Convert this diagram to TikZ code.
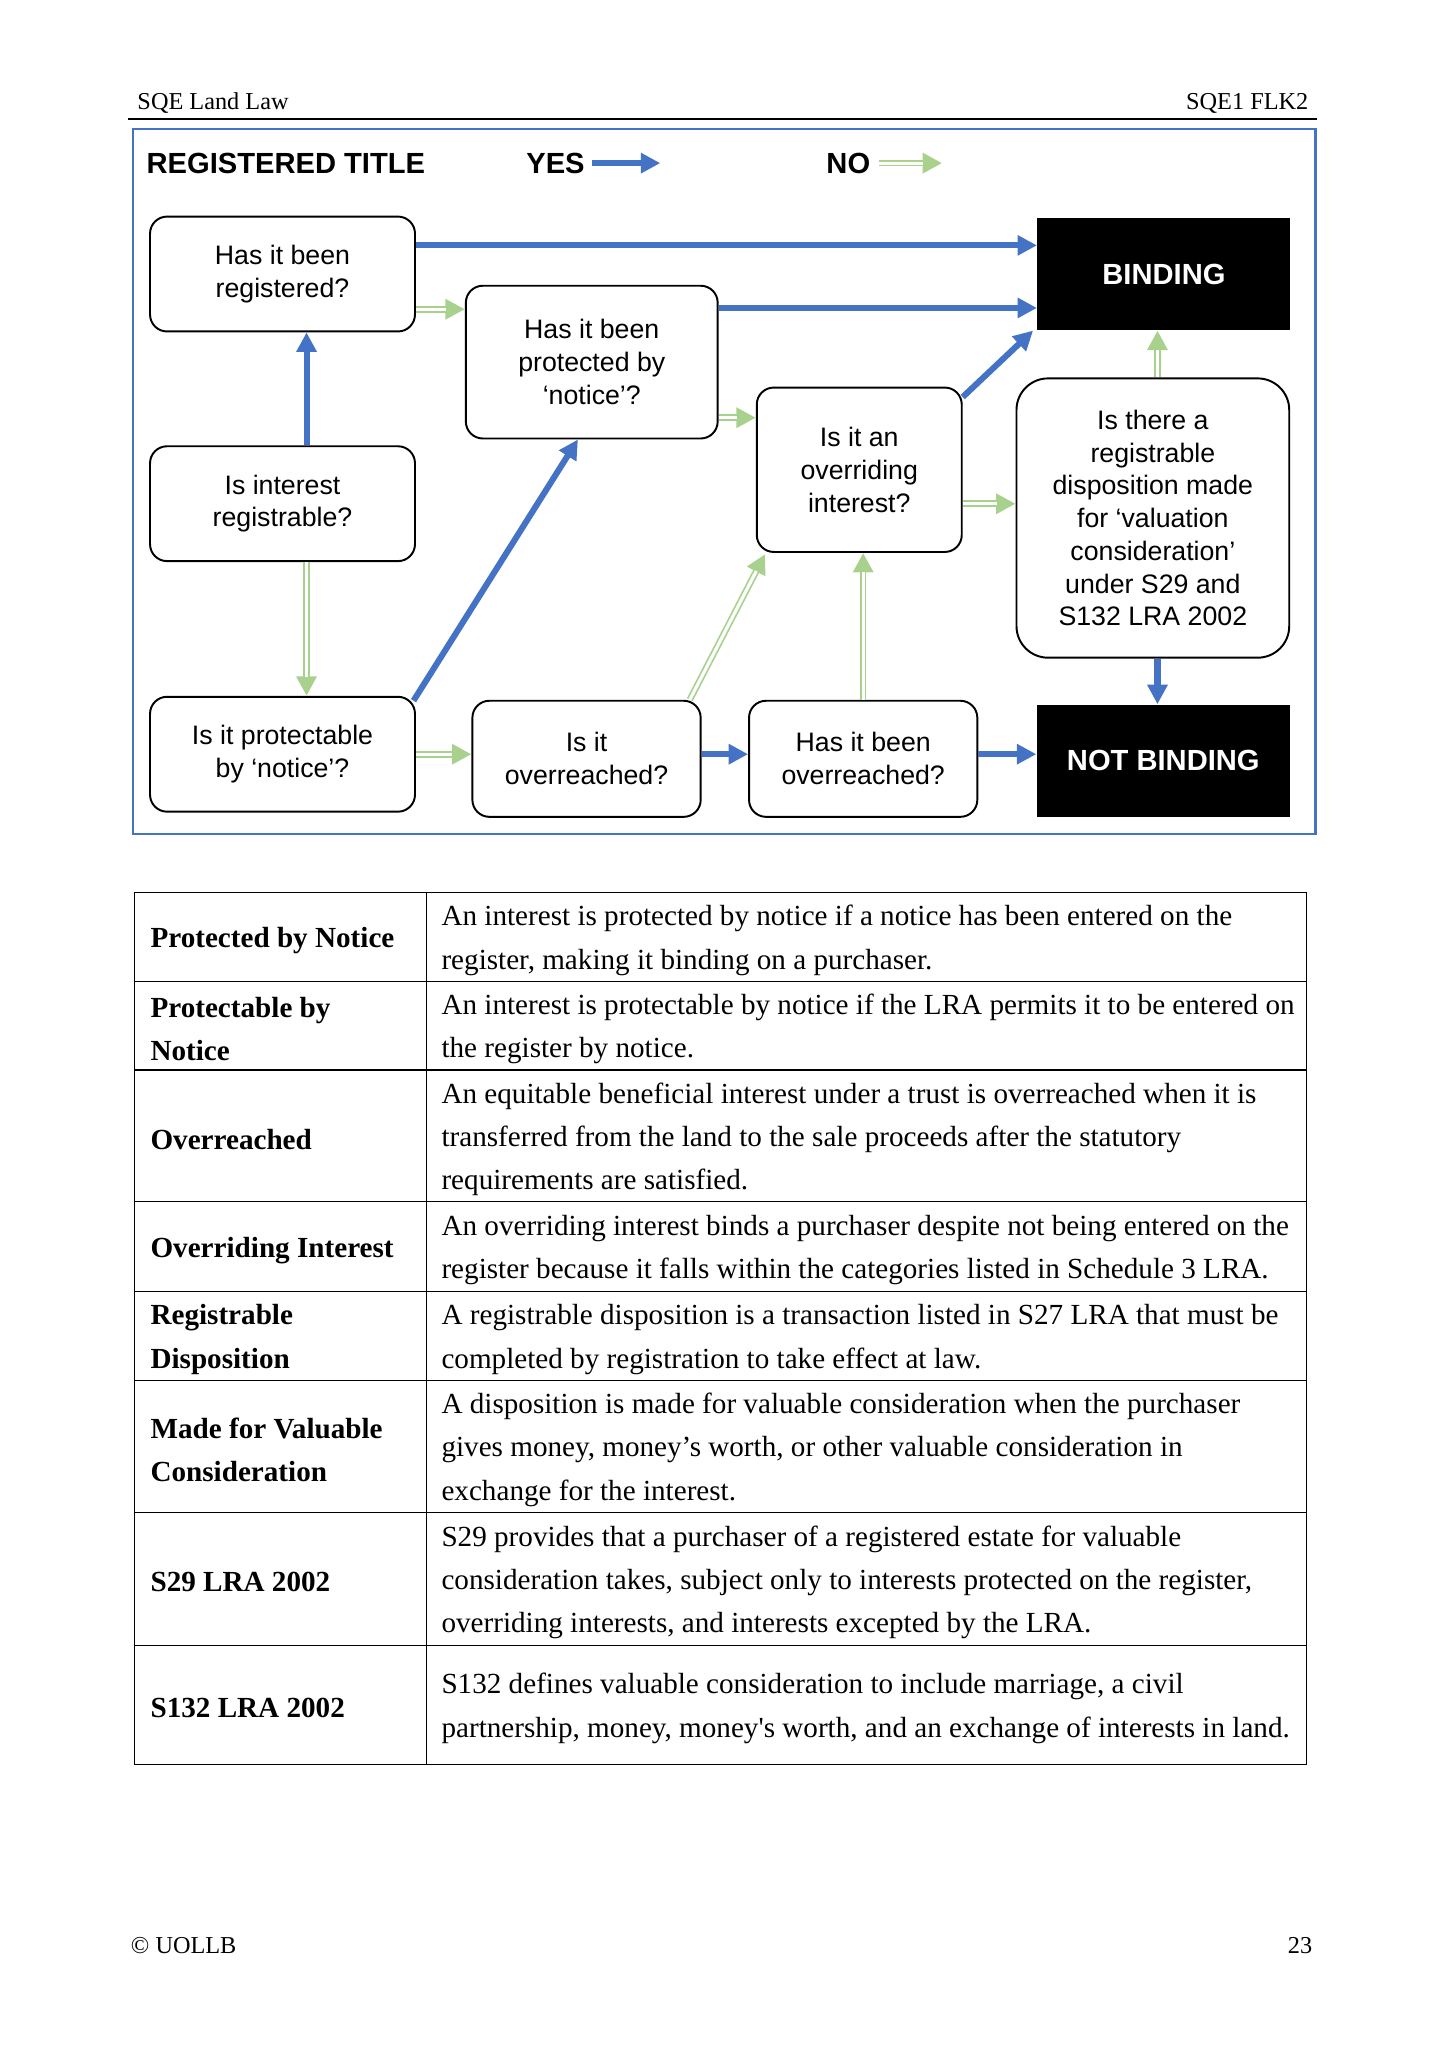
\documentclass[tikz,border=0pt]{standalone}
\usepackage{fontspec}
\setmainfont{Liberation Serif}
\newfontfamily\arial{Liberation Sans}
\usetikzlibrary{arrows.meta}

\definecolor{yesblue}{HTML}{4472C4}
\definecolor{nogreen}{HTML}{A9D18E}

\begin{document}
\begin{tikzpicture}[x=0.5373pt, y=-0.5373pt,
    question/.style={draw, line width=0.8pt, rounded corners=7pt, fill=white, align=center, inner sep=0pt,
        font={\arial\fontsize{11}{13.5}\selectfont}},
    outcome/.style={fill=black, text=white, inner sep=0pt, minimum width=104.2pt, minimum height=46.2pt,
        font={\arial\bfseries\fontsize{12}{14}\selectfont}},
    yesarrow/.style={draw=yesblue, line width=2.5pt, -{Triangle[length=8pt,width=8pt]}},
    noarrow/.style={draw=white, line width=1.3pt, shorten >=7.8pt,
        preaction={draw=nogreen, line width=2.7pt, shorten >=0pt, -{Triangle[length=8pt,width=8pt]}}},
    termcell/.style={anchor=west, align=left, inner sep=0pt, yshift=-1.4pt, font={\bfseries\fontsize{12}{17.85}\selectfont}},
    defcell/.style={anchor=west, align=left, inner sep=0pt, yshift=-1.4pt, font={\fontsize{12}{17.85}\selectfont}}]
    \useasboundingbox (0,0) rectangle (1107.4,1567.2);

    % page header and footer
    \node[anchor=base west, inner sep=0pt, font=\fontsize{10}{12}\selectfont] (hdrleft) at (105,84) {SQE Land Law};
    \node[anchor=base east, inner sep=0pt, font=\fontsize{10}{12}\selectfont] (hdrright) at (1003,84) {SQE1 FLK2};
    \draw[line width=0.75pt] (98,91) -- (1009,91);
    \node[anchor=base west, inner sep=0pt, font=\fontsize{10}{12}\selectfont] (ftrleft) at (100,1497) {© UOLLB};
    \node[anchor=base east, inner sep=0pt, font=\fontsize{10}{12}\selectfont] (ftrright) at (1006,1497) {23};

    % flowchart frame and legend
    \draw[yesblue, line width=1pt] (102,99) rectangle (1008,639);
    \node[anchor=west, inner sep=0pt, font={\arial\bfseries\fontsize{12}{14}\selectfont}] (title) at (112,125) {REGISTERED TITLE};
    \node[anchor=west, inner sep=0pt, font={\arial\bfseries\fontsize{12}{14}\selectfont}] (yeslbl) at (403,125) {YES};
    \node[anchor=west, inner sep=0pt, font={\arial\bfseries\fontsize{12}{14}\selectfont}] (nolbl) at (633,125) {NO};
    \coordinate (yesend) at (506,125);
    \coordinate (noend) at (722,125);
    \draw[yesarrow] ([xshift=3pt]yeslbl.east) -- (yesend);
    \draw[noarrow] ([xshift=3.5pt]nolbl.east) -- (noend);

    % questions
    \node[question, minimum width=109.1pt, minimum height=47.3pt] (reg) at (216.5,210) {Has it been\\registered?};
    \node[question, minimum width=103.7pt, minimum height=62.9pt] (prot) at (453.5,277.5) {Has it been\\protected by\\‘notice’?};
    \node[question, minimum width=109.1pt, minimum height=47.3pt] (regable) at (216.5,386) {Is interest\\registrable?};
    \node[question, minimum width=109.1pt, minimum height=47.3pt] (protable) at (216.5,578) {Is it protectable\\by ‘notice’?};
    \node[question, minimum width=94pt, minimum height=47.8pt] (overr) at (449.5,581.5) {Is it\\overreached?};
    \node[question, minimum width=94pt, minimum height=47.8pt] (beenover) at (661.5,581.5) {Has it been\\overreached?};
    \node[question, minimum width=84.4pt, minimum height=67.7pt] (overriding) at (658.5,360) {Is it an\\overriding\\interest?};
    \node[question, minimum width=112.3pt, minimum height=115pt, rounded corners=13pt] (dispo) at (883.5,397)
        {Is there a\\registrable\\disposition made\\for ‘valuation\\consideration’\\under S29 and\\S132 LRA 2002};

    % outcomes
    \node[outcome] (bind) at (892,210) {BINDING};
    \node[outcome] (notbind) at (891.5,583) {NOT BINDING};

    % yes
    \draw[yesarrow] ([yshift=11.8pt]reg.east) -- ([yshift=11.8pt]reg.east -| bind.west);
    \draw[yesarrow] ([yshift=22.3pt]prot.east) -- ([yshift=22.3pt]prot.east -| bind.west);
    \draw[yesarrow] ([xshift=9.9pt]regable.north) -- ([xshift=9.9pt]reg.south);
    \draw[yesarrow] ([xshift=-1pt,yshift=-2pt]protable.north east) -- ([xshift=-5.7pt]prot.south);
    \draw[yesarrow] ([yshift=1.9pt]overr.east) -- ([yshift=1.9pt]overr.east -| beenover.west);
    \draw[yesarrow] ([yshift=1.9pt]beenover.east) -- ([yshift=1.9pt]beenover.east -| notbind.west);
    \draw[yesarrow] ([yshift=-4.3pt]overriding.north east) -- ([xshift=-1.6pt]bind.south west);
    \draw[yesarrow] ([xshift=1.9pt]dispo.south) -- ([xshift=1.9pt]dispo.south |- notbind.north);

    % no
    \draw[noarrow] ([yshift=-14.5pt]reg.east) -- ([yshift=-14.5pt]reg.east -| prot.west);
    \draw[noarrow] ([xshift=9.9pt]regable.south) -- ([xshift=9.9pt]protable.north);
    \draw[noarrow] (protable.east) -- (protable.east -| overr.west);
    \draw[noarrow] ([xshift=-4.9pt]overr.north east) -- ([xshift=3.8pt,yshift=-0.5pt]overriding.south west);
    \draw[noarrow] (beenover.north) -- (beenover.north |- overriding.south);
    \draw[noarrow] ([yshift=-22.9pt]prot.east) -- ([yshift=-22.9pt]prot.east -| overriding.west);
    \draw[noarrow] ([yshift=-14pt]overriding.east) -- ([yshift=-14pt]overriding.east -| dispo.west);
    \draw[noarrow] ([xshift=1.9pt]dispo.north) -- ([xshift=1.9pt]dispo.north |- bind.south);

    % glossary table
    \draw[line width=0.5pt] (103,684) rectangle (1001,1352);
    \draw[line width=0.5pt] (327,684) -- (327,1352);
    \foreach \y in {752,820,921,990,1058,1159,1261}
        \draw[line width=0.5pt] (103,\y) -- (1001,\y);

    \node[termcell] (t1) at (115,718) {Protected by Notice};
    \node[defcell] (d1) at (338,718) {An interest is protected by notice if a notice has been entered on the\\register, making it binding on a purchaser.};
    \node[termcell] (t2) at (115,786) {Protectable by\\Notice};
    \node[defcell] (d2) at (338,786) {An interest is protectable by notice if the LRA permits it to be entered on\\the register by notice.};
    \node[termcell] (t3) at (115,870.5) {Overreached};
    \node[defcell] (d3) at (338,870.5) {An equitable beneficial interest under a trust is overreached when it is\\transferred from the land to the sale proceeds after the statutory\\requirements are satisfied.};
    \node[termcell] (t4) at (115,955.5) {Overriding Interest};
    \node[defcell] (d4) at (338,955.5) {An overriding interest binds a purchaser despite not being entered on the\\register because it falls within the categories listed in Schedule 3 LRA.};
    \node[termcell] (t5) at (115,1024) {Registrable\\Disposition};
    \node[defcell] (d5) at (338,1024) {A registrable disposition is a transaction listed in S27 LRA that must be\\completed by registration to take effect at law.};
    \node[termcell] (t6) at (115,1108.5) {Made for Valuable\\Consideration};
    \node[defcell] (d6) at (338,1108.5) {A disposition is made for valuable consideration when the purchaser\\gives money, money’s worth, or other valuable consideration in\\exchange for the interest.};
    \node[termcell] (t7) at (115,1210) {S29 LRA 2002};
    \node[defcell] (d7) at (338,1210) {S29 provides that a purchaser of a registered estate for valuable\\consideration takes, subject only to interests protected on the register,\\overriding interests, and interests excepted by the LRA.};
    \node[termcell] (t8) at (115,1306.5) {S132 LRA 2002};
    \node[defcell] (d8) at (338,1306.5) {S132 defines valuable consideration to include marriage, a civil\\partnership, money, money\textquotesingle s worth, and an exchange of interests in land.};
\end{tikzpicture}
\end{document}
